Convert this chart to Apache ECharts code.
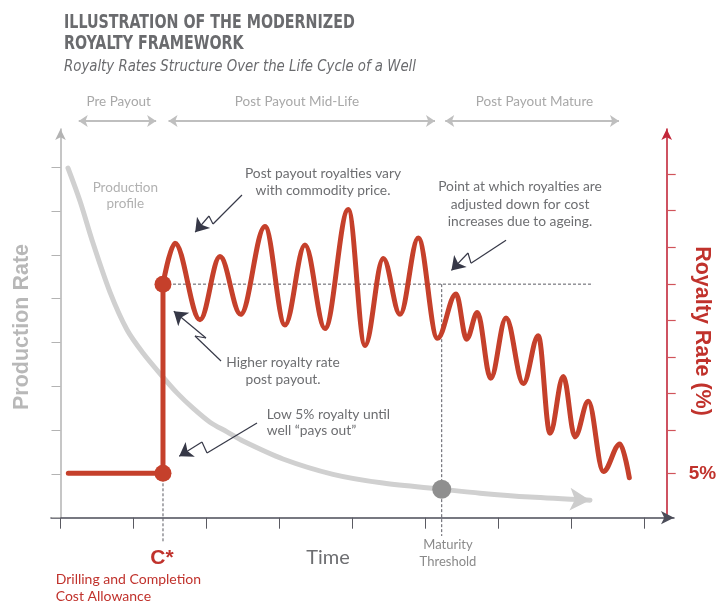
<!DOCTYPE html>
<html><head><meta charset="utf-8">
<script src="https://cdn.jsdelivr.net/npm/echarts@6/dist/echarts.min.js"></script>
<style>html,body{margin:0;padding:0;background:#fff}#c{width:727px;height:605px}</style>
</head><body><div id="c"></div>
<script>
// ---------- data ----------
const productionX = [0.103,0.267,0.445,0.678,0.911,1.130,1.404,1.596,1.815,2.048,2.281,2.500,3.048,3.733,4.418,5.222,5.747,6.432,7.253];
const productionY = [7.98,7.23,6.27,5.15,4.29,3.76,3.21,2.85,2.50,2.18,1.96,1.75,1.34,0.99,0.79,0.65,0.56,0.47,0.40];
const prePayoutX = [0.107, 1.404, 1.404];
const prePayoutRate = [5, 5, 26.3];
const waveX = [1.404,1.568,1.911,2.185,2.468,2.801,3.075,3.349,3.623,3.942,4.171,4.422,4.651,4.901,5.164,5.418,5.564,5.710,5.893,6.103,6.340,6.545,6.705,6.888,7.048,7.230,7.436,7.664,7.792];
const waveRate = [26.3,30.9,22.3,29.4,22.9,32.8,21.7,30.7,21.3,34.7,19.4,29.2,22.9,31.5,20.2,25.2,20.1,23.1,15.7,22.5,15.1,20.5,9.5,15.9,9.1,13.1,5.2,8.3,4.5];
const payoutX = 1.404, baseRate = 5, payoutRate = 26.3;
const maturityX = 5.222, maturityProduction = 0.648;
const adjustEndX = 7.295;
const xTicks = [0,1,2,3,4,5,6,7,8];
const leftTicks = [0,1,2,3,4,5,6,7,8];
const rightTicks = [5, 9.9, 14.0, 18.1, 22.2, 26.3, 30.4, 34.6, 38.7];
const rightLabels = [5];
const phaseNames = ['Pre Payout', 'Post Payout Mid-Life', 'Post Payout Mature'];
const phaseStart = [0.25, 1.48, 5.27];
const phaseEnd = [1.31, 5.13, 7.65];
// callout zigzag arrows (data coords, left axis)
const calloutPaths = [
  [[2.486,7.368],[2.089,6.705],[2.034,6.888],[1.845,6.518]],
  [[2.199,3.578],[1.842,4.148],[1.993,4.103],[1.552,4.715]],
  [[2.692,2.162],[2.007,1.477],[1.938,1.728],[1.626,1.402]],
  [[6.103,6.336],[5.623,5.811],[5.582,6.043],[5.355,5.646]]
];

// ---------- chart ----------
const RED = '#c5402b', AXRED = '#c2273a', GREY = '#6d6e71';
const zip = (a, b) => a.map((v, i) => [v, b[i]]);
const calloutData = [];
calloutPaths.forEach(p => {
  for (let i = 0; i < p.length - 1; i++) {
    const item = { coords: [p[i], p[i + 1]] };
    if (i === p.length - 2) item.symbol = ['none', 'arrow'];
    calloutData.push(item);
  }
});
const dotted = { color: '#5a5a62', width: 1, type: [3, 2] };
const LATO = 'Lato, "Open Sans", sans-serif';
const NARROW = '"Liberation Sans Narrow", "DejaVu Sans Condensed", "Arial Narrow", sans-serif';
function txt(x, y, text, st, extra) {
  return Object.assign({ type: 'text', x, y, silent: true, style: Object.assign({
    text, fill: GREY, fontFamily: LATO, fontSize: 13.8, align: 'center', verticalAlign: 'top', lineHeight: 17.4
  }, st) }, extra || {});
}

const chart = echarts.init(document.getElementById('c'), null, { renderer: 'canvas' });
chart.setOption({
  animation: false,
  backgroundColor: '#fff',
  grid: [
    { left: 51, right: 53, top: 129, bottom: 87.3 },
    { left: 51, right: 53, top: 111, height: 20 }
  ],
  xAxis: [
    { type: 'value', gridIndex: 0, min: -0.13, max: 8.404,
      splitLine: { show: false },
      axisLine: { show: true, onZero: true, symbol: ['none', 'arrow'], symbolSize: [10, 13],
        lineStyle: { color: '#4b4c58', width: 1.5 } },
      axisTick: { show: true, length: 11, customValues: xTicks, lineStyle: { color: '#5a5a62', width: 1 } },
      axisLabel: { show: false } },
    { type: 'value', gridIndex: 1, min: -0.13, max: 8.404, show: false }
  ],
  yAxis: [
    { type: 'value', gridIndex: 0, min: 0, max: 8.874, position: 'left',
      splitLine: { show: false },
      axisLine: { show: true, onZero: true, symbol: ['none', 'arrow'], symbolSize: [8, 11],
        lineStyle: { color: '#b3b3b3', width: 1.5 } },
      axisTick: { show: true, length: 9, customValues: leftTicks, lineStyle: { color: '#b3b3b3', width: 1 } },
      axisLabel: { show: false } },
    { type: 'value', gridIndex: 0, min: 0, max: 43.77, position: 'right', offset: -7.3,
      splitLine: { show: false },
      axisLine: { show: true, onZero: false, symbol: ['none', 'arrow'], symbolSize: [8, 11],
        lineStyle: { color: AXRED, width: 1.6 } },
      axisTick: { show: true, length: 9, customValues: rightTicks, lineStyle: { color: '#d0545a', width: 1.2 } },
      axisLabel: { show: true, customValues: rightLabels, margin: 22,
        formatter: v => (Math.abs(v - 5) < 1e-6 ? v + '%' : ''),
        color: '#c0322c', fontWeight: 'bold', fontSize: 19, fontFamily: 'Liberation Sans, Arial, sans-serif' } },
    { type: 'value', gridIndex: 1, min: 0, max: 1, show: false }
  ],
  series: [
    // dotted guide lines
    { type: 'line', xAxisIndex: 0, yAxisIndex: 1, symbol: 'none', clip: false, silent: true, z: 1,
      data: [[payoutX, payoutRate], [adjustEndX, payoutRate]], lineStyle: dotted },
    { type: 'line', xAxisIndex: 0, yAxisIndex: 1, symbol: 'none', clip: false, silent: true, z: 1,
      data: [[maturityX, payoutRate], [maturityX, -2.06]], lineStyle: dotted },
    { type: 'line', xAxisIndex: 0, yAxisIndex: 1, symbol: 'none', clip: false, silent: true, z: 1,
      data: [[payoutX, baseRate], [payoutX, -2.75]], lineStyle: dotted },
    // production profile
    { type: 'line', xAxisIndex: 0, yAxisIndex: 0, smooth: 0.3, symbol: 'none', silent: true, z: 2,
      data: zip(productionX, productionY), lineStyle: { color: '#d0d0d0', width: 5, cap: 'round' } },
    { type: 'scatter', xAxisIndex: 0, yAxisIndex: 0, silent: true, z: 3,
      data: [[productionX[productionX.length - 1], productionY[productionY.length - 1]]],
      symbol: 'arrow', symbolSize: [17, 20], symbolRotate: -93, itemStyle: { color: '#cdcdcd', opacity: 1 } },
    // royalty: pre-payout step
    { type: 'line', xAxisIndex: 0, yAxisIndex: 1, symbol: 'none', silent: true, z: 4,
      data: zip(prePayoutX, prePayoutRate), lineStyle: { color: RED, width: 5, cap: 'round', join: 'round' } },
    // royalty: post-payout wave
    { type: 'line', xAxisIndex: 0, yAxisIndex: 1, symbol: 'none', silent: true, z: 4,
      smooth: 0.36, smoothMonotone: 'x',
      data: zip(waveX, waveRate), lineStyle: { color: RED, width: 5, cap: 'round', join: 'round' } },
    // dots
    { type: 'scatter', xAxisIndex: 0, yAxisIndex: 1, silent: true, symbolSize: 17, z: 6,
      data: [[payoutX, baseRate], [payoutX, payoutRate]], itemStyle: { color: RED, opacity: 1 } },
    { type: 'scatter', xAxisIndex: 0, yAxisIndex: 0, silent: true, symbolSize: 19, z: 6,
      data: [[maturityX, maturityProduction]], itemStyle: { color: '#8f8f8f', opacity: 1 } },
    // callout arrows
    { type: 'lines', coordinateSystem: 'cartesian2d', xAxisIndex: 0, yAxisIndex: 0, silent: true, z: 7,
      symbol: 'none', symbolSize: 13, data: calloutData,
      lineStyle: { color: '#363847', width: 1.2, opacity: 1, curveness: 0 } },
    // phase arrows
    { type: 'lines', coordinateSystem: 'cartesian2d', xAxisIndex: 1, yAxisIndex: 2, silent: true,
      symbol: ['arrow', 'arrow'], symbolSize: 9,
      data: phaseNames.map((n, i) => ({ name: n, coords: [[phaseStart[i], 0.5], [phaseEnd[i], 0.5]] })),
      lineStyle: { color: '#bfbfbf', width: 2, opacity: 1, curveness: 0 } }
  ],
  graphic: [
    txt(64, 23, 'ILLUSTRATION OF THE MODERNIZED', { align: 'left', verticalAlign: 'middle', fontFamily: NARROW, fontWeight: 'bold', fontSize: 19, fill: '#6a6b6e' }, { scaleX: 0.835 }),
    txt(64, 44, 'ROYALTY FRAMEWORK', { align: 'left', verticalAlign: 'middle', fontFamily: NARROW, fontWeight: 'bold', fontSize: 19, fill: '#6a6b6e' }, { scaleX: 0.835 }),
    txt(64, 67, 'Royalty Rates Structure Over the Life Cycle of a Well', { align: 'left', verticalAlign: 'middle', fontFamily: NARROW, fontStyle: 'italic', fontSize: 15.5, fill: '#6a6b6e' }, { scaleX: 0.954 }),
    txt(118.7, 102, phaseNames[0], { verticalAlign: 'middle', fontSize: 13.5, fill: '#a8a8a8' }),
    txt(297, 102, phaseNames[1], { verticalAlign: 'middle', fontSize: 13.5, fill: '#a8a8a8' }),
    txt(534.5, 102, phaseNames[2], { verticalAlign: 'middle', fontSize: 13.5, fill: '#a8a8a8' }),
    txt(323, 164.6, 'Post payout royalties vary\nwith commodity price.', {}),
    txt(520, 178, 'Point at which royalties are\nadjusted down for cost\nincreases due to ageing.', { lineHeight: 17.5 }),
    txt(283, 354, 'Higher royalty rate\npost payout.', { lineHeight: 17.3 }),
    txt(266.7, 406, 'Low 5% royalty until\nwell \u201cpays out\u201d', { align: 'left', lineHeight: 16.7 }),
    txt(125.3, 179, 'Production\nprofile', { fill: '#b1b1b1', fontSize: 13.5, lineHeight: 16.7 }),
    txt(448, 536.7, 'Maturity\nThreshold', { fill: '#8a8a8a', fontSize: 13, lineHeight: 16.7 }),
    txt(162, 558, 'C*', { verticalAlign: 'middle', fill: '#c0322c', fontWeight: 'bold', fontSize: 21, fontFamily: 'Liberation Sans, Arial, sans-serif' }),
    txt(328, 558, 'Time', { verticalAlign: 'middle', fontSize: 20 }),
    txt(55.7, 570.6, 'Drilling and Completion\nCost Allowance', { align: 'left', fill: '#c0322c', fontSize: 14 }),
    { type: 'text', x: 22, y: 327, rotation: Math.PI / 2, silent: true,
      style: { text: 'Production Rate', fill: '#b8b8b8', fontFamily: 'Liberation Sans, Arial, sans-serif', fontWeight: 'bold', fontSize: 21.5, align: 'center', verticalAlign: 'middle' } },
    { type: 'text', x: 702, y: 331, rotation: -Math.PI / 2, silent: true,
      style: { text: 'Royalty Rate (%)', fill: '#c0322c', fontFamily: 'Liberation Sans, Arial, sans-serif', fontWeight: 'bold', fontSize: 21.5, align: 'center', verticalAlign: 'middle' } }
  ]
});
</script></body></html>
